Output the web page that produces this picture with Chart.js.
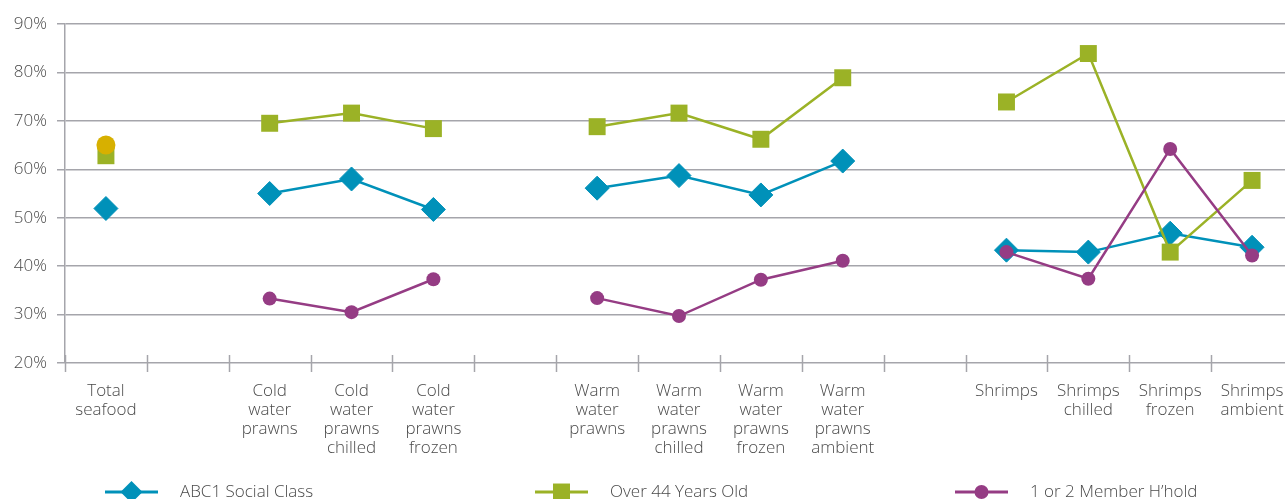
<!DOCTYPE html>
<html>
<head>
<meta charset="utf-8">
<script src="https://cdn.jsdelivr.net/npm/chart.js@4.4.1/dist/chart.umd.min.js"></script>
<style>
  html, body { margin: 0; padding: 0; background: #fff; overflow: hidden; }
  #wrap { width: 1306px; height: 499px; position: relative; }
</style>
</head>
<body>
<div id="wrap"><canvas id="myChart"></canvas></div>
<script>
const categories = [
    ["Total", "seafood"], "",
    ["Cold", "water", "prawns"], ["Cold", "water", "prawns", "chilled"], ["Cold", "water", "prawns", "frozen"], "",
    ["Warm", "water", "prawns"], ["Warm", "water", "prawns", "chilled"], ["Warm", "water", "prawns", "frozen"], ["Warm", "water", "prawns", "ambient"], "",
    "Shrimps", ["Shrimps", "chilled"], ["Shrimps", "frozen"], ["Shrimps", "ambient"]
];
const abc1   = [51.9, null, 55.0, 58.0, 51.7, null, 56.1, 58.7, 54.7, 61.7, null, 43.3, 42.9, 46.8, 43.9];
const over44 = [62.8, null, 69.5, 71.6, 68.4, null, 68.8, 71.6, 66.2, 78.9, null, 73.9, 83.9, 42.9, 57.7];
const hold12 = [null, null, 33.3, 30.5, 37.3, null, 33.4, 29.7, 37.2, 41.1, null, 42.9, 37.4, 64.2, 42.2];
const allBuyers = [65.0, null, null, null, null, null, null, null, null, null, null, null, null, null, null];
const yTicks = [20, 30, 40, 50, 60, 70, 80, 90];

const teal = '#0091b9';
const green = '#9bb226';
const purple = '#953c84';
const yellow = '#d7b000';
const gridCol = '#a5a5ab';
const textCol = '#4a4a4a';
const fontFam = '"Open Sans", Lato, sans-serif';

// tick marks crossing the x axis at category boundaries
const xTickMarks = {
    id: 'xTickMarks',
    beforeDatasetsDraw(chart) {
        const x = chart.scales.x;
        const ctx = chart.ctx;
        const half = (x.getPixelForValue(1) - x.getPixelForValue(0)) / 2;
        const yb = chart.chartArea.bottom;
        ctx.save();
        ctx.strokeStyle = gridCol;
        ctx.lineWidth = 1.5;
        for (let i = 0; i <= categories.length; i++) {
            const px = Math.round(x.getPixelForValue(i) - half) + 0.5;
            ctx.beginPath();
            ctx.moveTo(px, yb - 8);
            ctx.lineTo(px, yb + 9);
            ctx.stroke();
        }
        ctx.restore();
    }
};

// legend drawn as line + marker, like the original
const lineLegend = {
    id: 'lineLegend',
    afterDraw(chart) {
        const ctx = chart.ctx;
        const items = [
            { ds: 0, x: 105, r: 11 },
            { ds: 1, x: 535, r: 12 },
            { ds: 2, x: 955, r: 7 }
        ];
        const y = 492;
        ctx.save();
        for (const it of items) {
            const d = chart.data.datasets[it.ds];
            ctx.strokeStyle = d.borderColor;
            ctx.lineWidth = 3;
            ctx.beginPath();
            ctx.moveTo(it.x, y);
            ctx.lineTo(it.x + 53, y);
            ctx.stroke();
            ctx.fillStyle = d.borderColor;
            ctx.lineWidth = 0;
            Chart.helpers.drawPoint(ctx, {
                pointStyle: d.pointStyle,
                rotation: 0,
                radius: it.r,
                borderWidth: 0
            }, it.x + 26.5, y);
            ctx.fillStyle = textCol;
            ctx.font = '300 17px ' + fontFam;
            ctx.textBaseline = 'middle';
            ctx.fillText(d.label, it.x + 75, y);
        }
        ctx.restore();
    }
};

new Chart(document.getElementById('myChart').getContext('2d'), {
    type: 'line',
    data: {
        labels: categories,
        datasets: [
            {
                label: 'ABC1 Social Class',
                data: abc1,
                borderColor: teal,
                backgroundColor: teal,
                borderWidth: 2.5,
                pointStyle: 'rectRot',
                pointRadius: 12,
                pointBorderWidth: 1,
                order: 4
            },
            {
                label: 'Over 44 Years Old',
                data: over44,
                borderColor: green,
                backgroundColor: green,
                borderWidth: 2.5,
                pointStyle: 'rect',
                pointRadius: 12,
                pointBorderWidth: 0,
                order: 3
            },
            {
                label: "1 or 2 Member H\u2019hold",
                data: hold12,
                borderColor: purple,
                backgroundColor: purple,
                borderWidth: 2.5,
                pointStyle: 'circle',
                pointRadius: 7,
                pointBorderWidth: 0,
                order: 2
            },
            {
                label: 'All Buyers',
                data: allBuyers,
                borderColor: yellow,
                backgroundColor: yellow,
                borderWidth: 2.5,
                pointStyle: 'circle',
                pointRadius: 9.5,
                pointBorderWidth: 0,
                order: 1
            }
        ]
    },
    options: {
        responsive: true,
        maintainAspectRatio: false,
        animation: false,
        spanGaps: false,
        layout: { padding: { top: 24, right: 6, left: 0, bottom: 0 } },
        plugins: {
            legend: { display: false },
            tooltip: { enabled: false }
        },
        scales: {
            x: {
                offset: true,
                grid: { display: false },
                border: { display: false },
                ticks: {
                    autoSkip: false,
                    maxRotation: 0,
                    minRotation: 0,
                    padding: 11,
                    color: textCol,
                    font: { family: fontFam, size: 17, weight: 300, lineHeight: 1.12 }
                },
                afterFit(scale) { scale.height = 136; }
            },
            y: {
                min: 20,
                max: 90,
                afterBuildTicks(scale) { scale.ticks = yTicks.map(v => ({ value: v })); },
                grid: { color: gridCol, lineWidth: 1.5, tickLength: 8 },
                border: { color: gridCol, width: 1.5 },
                ticks: {
                    padding: 10,
                    color: textCol,
                    font: { family: fontFam, size: 17, weight: 300 },
                    callback: v => v + '%'
                },
                afterFit(scale) { scale.width = 65; }
            }
        }
    },
    plugins: [xTickMarks, lineLegend]
});
</script>
</body>
</html>
